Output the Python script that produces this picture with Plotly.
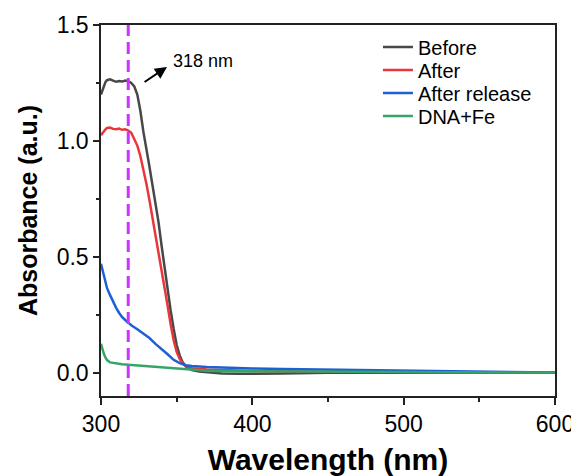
import plotly.graph_objects as go

# ---------------- data ----------------
wl_before = [300, 301, 302, 303, 304, 306, 308, 310, 312, 314, 316, 318, 320, 322, 324,
             326, 328, 330, 332, 334, 336, 338, 340, 342, 344, 346, 348, 350, 352, 354,
             356, 358, 360, 365, 370, 380, 390, 400, 420, 450, 480, 500, 530, 560, 600]
abs_before = [1.20, 1.22, 1.245, 1.255, 1.262, 1.266, 1.26, 1.255, 1.258, 1.256, 1.26, 1.258, 1.25, 1.235, 1.20,
              1.13, 1.04, 0.97, 0.89, 0.81, 0.73, 0.65, 0.55, 0.45, 0.36, 0.27, 0.19, 0.12, 0.075, 0.045,
              0.028, 0.018, 0.012, 0.006, 0.002, -0.003, -0.004, -0.004, -0.003, 0.0, 0.0, 0.0, 0.001, 0.001, 0.0]

wl_after = [300, 301, 302, 303, 304, 306, 308, 310, 312, 314, 316, 318, 320, 322, 324,
            326, 328, 330, 332, 334, 336, 338, 340, 342, 344, 346, 348, 350, 352, 354,
            356, 358, 360, 370, 380, 400, 450, 500, 550, 600]
abs_after = [1.025, 1.035, 1.045, 1.05, 1.056, 1.058, 1.052, 1.05, 1.053, 1.048, 1.05, 1.045, 1.035, 1.01, 0.98,
             0.935, 0.88, 0.815, 0.745, 0.67, 0.60, 0.53, 0.45, 0.37, 0.29, 0.21, 0.14, 0.09, 0.06, 0.04,
             0.03, 0.025, 0.02, 0.014, 0.011, 0.008, 0.005, 0.003, 0.002, 0.001]

wl_release = [300, 301, 302, 303, 304, 306, 308, 310, 312, 314, 316, 318, 320, 324, 328,
              332, 336, 340, 344, 348, 352, 356, 360, 370, 380, 400, 420, 450, 480, 500,
              520, 540, 560, 580, 600]
abs_release = [0.47, 0.44, 0.41, 0.385, 0.365, 0.335, 0.305, 0.28, 0.258, 0.24, 0.228, 0.215, 0.205, 0.188, 0.17,
               0.15, 0.125, 0.104, 0.08, 0.056, 0.042, 0.033, 0.029, 0.025, 0.022, 0.019, 0.016, 0.013, 0.011, 0.01,
               0.008, 0.005, 0.003, 0.002, 0.001]

wl_dnafe = [300, 301, 302, 303, 304, 306, 310, 314, 318, 322, 326, 330, 335, 340, 345,
            350, 355, 360, 370, 380, 400, 420, 440, 460, 480, 500, 530, 560, 600]
abs_dnafe = [0.125, 0.10, 0.08, 0.065, 0.055, 0.045, 0.04, 0.037, 0.035, 0.033, 0.03, 0.028, 0.025, 0.022, 0.02,
             0.017, 0.014, 0.012, 0.009, 0.007, 0.006, 0.004, 0.003, 0.004, 0.003, 0.003, 0.002, 0.002, 0.001]

series_names = ["Before", "After", "After release", "DNA+Fe"]
series_colors = ["#484848", "#e8363b", "#1f5fd6", "#34a468"]

marker_wl = 318
marker_label = "318 nm"

x_ticks = [300, 400, 500, 600]
y_ticks = [0.0, 0.5, 1.0, 1.5]
y_tick_text = ["0.0", "0.5", "1.0", "1.5"]

# ---------------- figure ----------------
FONT = "Liberation Sans, Arial, sans-serif"
fig = go.Figure()

legend_ids = ["legend", "legend2", "legend3", "legend4"]
for wl, ab, name, col, lg in zip([wl_before, wl_after, wl_release, wl_dnafe],
                                 [abs_before, abs_after, abs_release, abs_dnafe],
                                 series_names, series_colors, legend_ids):
    fig.add_trace(go.Scatter(x=wl, y=ab, mode="lines", name=name, legend=lg,
                             line=dict(color=col, width=2.5)))

# dashed marker line
fig.add_shape(type="line", xref="x", yref="paper", x0=marker_wl, x1=marker_wl, y0=0, y1=1,
              line=dict(color="#cc33ff", width=3, dash="12px,6px"), layer="above")

# arrow
fig.add_annotation(x=343.6, y=1.319, ax=327.8, ay=1.25, xref="x", yref="y", axref="x", ayref="y",
                   text="", showarrow=True, arrowhead=2, arrowsize=1.2, arrowwidth=2, arrowcolor="black")
fig.add_annotation(x=346.3, y=1.345, xref="x", yref="y", text=marker_label, showarrow=False,
                   xanchor="left", yanchor="middle", font=dict(family=FONT, size=18, color="black"))

axis_common = dict(showline=True, linecolor="#222222", linewidth=1.5, mirror=True,
                   showgrid=False, zeroline=False, ticks="outside", tickcolor="#222222",
                   tickwidth=1.5, automargin=False, tickfont=dict(family=FONT, size=23, color="black"))

fig.update_xaxes(range=[300, 600], tickvals=x_ticks, ticklen=7,
                 minor=dict(ticks="outside", ticklen=4, tickcolor="#222222", tickwidth=1.5, dtick=50, tick0=300),
                 title=dict(text="<b>Wavelength (nm)</b>", font=dict(family=FONT, size=30, color="black"), standoff=13),
                 **axis_common)
fig.update_yaxes(range=[-0.1, 1.5], tickvals=y_ticks, ticktext=y_tick_text, ticklen=6,
                 minor=dict(ticks="outside", ticklen=3, tickcolor="#222222", tickwidth=1.5, tickvals=[0.25, 0.75, 1.25]),
                 title=dict(text="<b>Absorbance (a.u.)</b>", font=dict(family=FONT, size=25, color="black"), standoff=12),
                 **axis_common)

legend_rows_y = [0.9407, 0.8787, 0.8167, 0.7547]
legend_style = dict(x=0.610, xanchor="left", yanchor="middle", bgcolor="rgba(0,0,0,0)",
                    font=dict(family=FONT, size=20, color="black"))

# the page's body has an 8px margin, so the figure is made 8px smaller on each axis
fig.update_layout(
    width=571, height=468,
    margin=dict(l=93, r=24, t=17, b=80, autoexpand=False),
    paper_bgcolor="white", plot_bgcolor="white",
    font=dict(family=FONT, color="black"),
    legend=dict(y=legend_rows_y[0], **legend_style),
    legend2=dict(y=legend_rows_y[1], **legend_style),
    legend3=dict(y=legend_rows_y[2], **legend_style),
    legend4=dict(y=legend_rows_y[3], **legend_style),
    showlegend=True,
)

fig.write_html("out.html")
